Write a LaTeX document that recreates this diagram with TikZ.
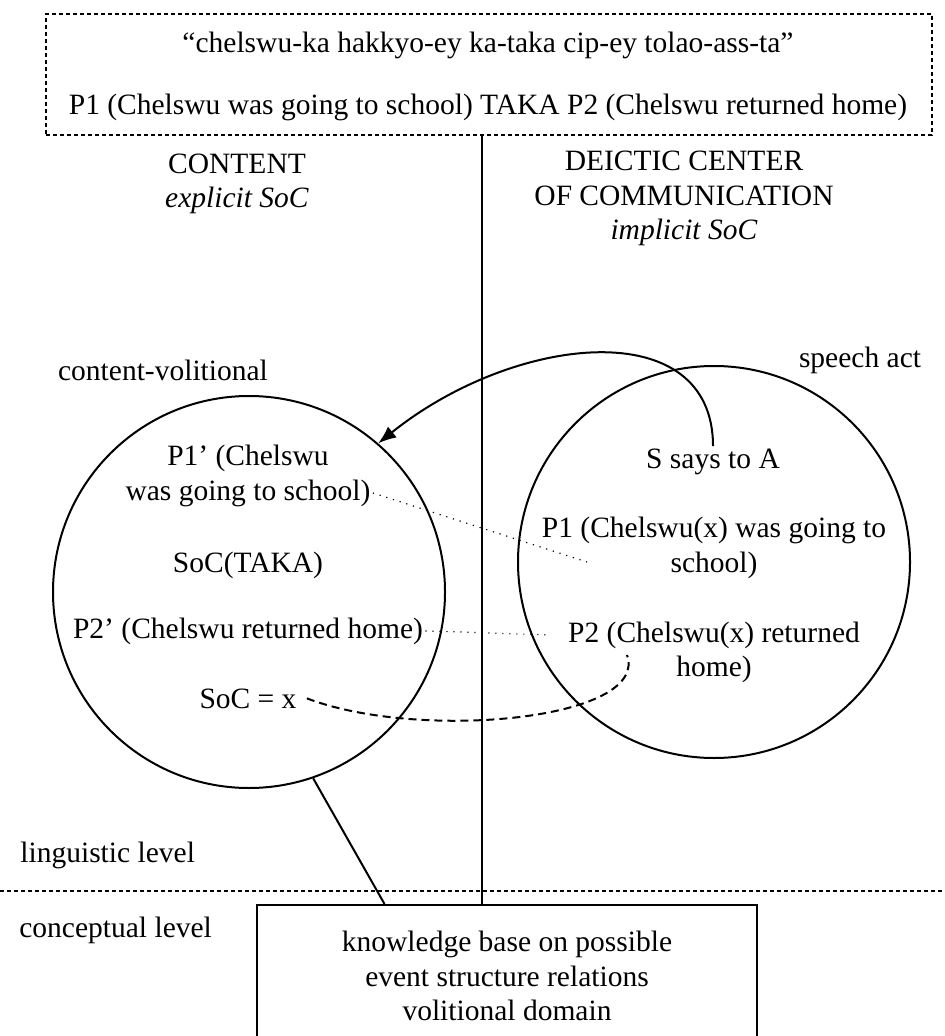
\documentclass[tikz,border=0pt]{standalone}
\usepackage{fontspec}
\setmainfont{Liberation Serif}
\usetikzlibrary{arrows.meta,calc,positioning}
\tikzset{%
	txt/.style     = {font=\fontsize{14.75}{17.25}\selectfont, align=center, anchor=base, inner sep=1pt},
	dashbox/.style = {draw, line width=0.9pt, dash pattern=on 2pt off 1.5pt},
	bubble/.style  = {draw, circle, line width=1pt, minimum size=196pt, inner sep=0pt},
	kbbox/.style   = {draw, rectangle, line width=1pt, minimum width=250pt, minimum height=71pt, text centered, align=center, font=\fontsize{14.75}{17.25}\selectfont},
	arrow/.style   = {line width=1pt, -{Latex[length=9pt,width=7pt]}},
	link/.style    = {line width=0.6pt, dash pattern=on 0.6pt off 2.9pt},
	soclink/.style = {line width=1pt, dash pattern=on 4pt off 2.5pt},
}
\begin{document}
\begin{tikzpicture}[x=0.5pt,y=-0.5pt]
	\useasboundingbox (0,0) rectangle (945,1036);
	
	% sentence
	\node[dashbox, minimum width=443pt, minimum height=60.5pt] (top) at (489,74.5) {};
	\node[txt] (sent) at (488,53) {“chelswu-ka hakkyo-ey ka-taka cip-ey tolao-ass-ta”};
	\node[txt] (gloss) at (488,115) {P1 (Chelswu was going to school) TAKA P2 (Chelswu returned home)};
	
	% base of a multi-line node = its last line
	\node[txt] (content) at (237,208) {CONTENT\\\textit{explicit SoC}};
	\node[txt] (deictic) at (684,240) {DEICTIC CENTER\\OF COMMUNICATION\\\textit{implicit SoC}};
	\node[txt] (cvol) at (163,381) {content-volitional};
	\node[txt] (sact) at (860,368) {speech act};
	
	% circles
	\node[bubble] (lc) at (249,592) {};
	\node[bubble] (rc) at (714,562) {};
	
	\node[txt] (p1a) at (248,466) {P1’ (Chelswu};
	\node[txt] (p1b) at (248,500) {was going to school)};
	\node[txt] (soct) at (248,572) {SoC(TAKA)};
	\node[txt] (p2l) at (248,638) {P2’ (Chelswu returned home)};
	\node[txt] (socx) at (248,708) {SoC = x};
	
	\node[txt] (says) at (713,468) {S says to A};
	\node[txt] (p1r) at (714,572) {P1 (Chelswu(x) was going to\\school)};
	\node[txt] (p2r) at (714,642) {P2 (Chelswu(x) returned};
	\node[txt] (home) at (714,676) {home)};
	
	% levels
	\draw[dashbox] (0,891) -- (945,891);
	\node[txt, anchor=base west] (ling) at (18,862) {linguistic level};
	\node[txt, anchor=base west] (conc) at (17,937) {conceptual level};
	\node[kbbox] (kb) at (507,976) {knowledge base on possible\\event structure relations\\volitional domain};
	
	\coordinate (mid) at (482,0);
	\coordinate (p1end) at (587,562);
	\coordinate (p2hook) at (627,655);
	
	\draw[line width=1pt] (top.south -| mid) -- (kb.north -| mid);
	\draw[line width=1pt] (lc.-71) -- ($(kb.north west)!0.256!(kb.north east)$);
	\draw[arrow] (says.north) .. controls +(0,-133) and +(137,-110) .. (lc.49);
	\draw[link] (p1b.east) -- (p1end);
	\draw[link] (p2l.east) -- ([xshift=-9pt]p2r.west);
	\draw[soclink] ([xshift=4pt]socx.east) .. controls +(113,43) and +(23,65) .. (p2hook);
\end{tikzpicture}
\end{document}
